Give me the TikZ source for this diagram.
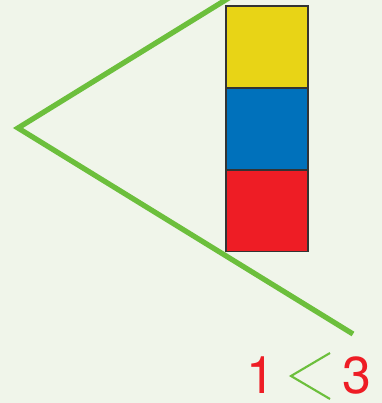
\documentclass[tikz,border=0pt]{standalone}
\usepackage{fontspec}
\setmainfont{TeX Gyre Heros}
\usetikzlibrary{positioning}

\definecolor{bgpaper}{HTML}{F0F5EA}
\definecolor{leafgreen}{HTML}{6CBF3C}
\definecolor{cubeyellow}{HTML}{E8D416}
\definecolor{cubeblue}{HTML}{0071BB}
\definecolor{cubered}{HTML}{EE1D25}

\tikzset{
  cube/.style={draw=black!80, line width=0.6pt, minimum size=1.64cm, inner sep=0pt, outer sep=0pt},
  digit/.style={text=cubered, font=\fontsize{29.5}{29.5}\selectfont, inner sep=0pt}
}

\begin{document}
\begin{tikzpicture}[x=0.02cm, y=-0.02cm]

    % 1. Paper and frame (pixel grid, y downwards)
    \fill[bgpaper] (0,0) rectangle (382,403);
    \useasboundingbox (0,0) rectangle (382,403);

    % 2. The big "less than" sign
    \coordinate (tip) at (18,128);
    \coordinate (upper) at (232,-4);
    \coordinate (lower) at (353,334);
    \draw[leafgreen, line width=3pt, line join=miter] (upper) -- (tip) -- (lower);

    % 3. Stack of three cubes
    \node[cube, fill=cubeyellow] (yellow) at (267,47) {};
    \node[cube, fill=cubeblue, below=0pt of yellow] (blue) {};
    \node[cube, fill=cubered, below=0pt of blue] (red) {};

    % 4. The comparison underneath
    \node[digit, anchor=base] (one) at (261,393) {1};
    \node[digit, anchor=base] (three) at (357,393) {3};
    \coordinate (ltop) at (330,353);
    \coordinate (ltip) at (291,376);
    \coordinate (lbot) at (330,399);
    \draw[leafgreen, line width=1.2pt] (ltop) -- (ltip) -- (lbot);

  \end{tikzpicture}
\end{document}
